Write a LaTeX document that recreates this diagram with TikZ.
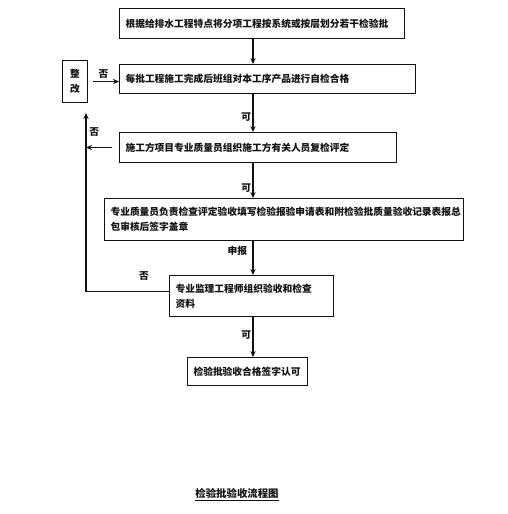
\documentclass[tikz,border=0pt]{standalone}
\usepackage{fontspec}
\newfontfamily\cjk{Noto Sans CJK SC}
\usetikzlibrary{arrows.meta}
\definecolor{ink}{HTML}{111111}

\begin{document}
\begin{tikzpicture}[x=0.75pt, y=-0.75pt,
  stepbox/.style={draw=ink, text=ink, line width=0.8pt, anchor=north west,
    inner xsep=4.5pt, inner ysep=2pt, align=left, font=\cjk\bfseries\fontsize{7.3}{11.5}\selectfont},
  fixbox/.style={stepbox, align=center, inner xsep=2pt},
  flow/.style={draw=ink, line width=0.8pt, -{Stealth[length=4.5pt, width=4pt]}},
  tag/.style={text=ink, font=\cjk\bfseries\fontsize{7.3}{8}\selectfont, inner sep=1pt},
]
\useasboundingbox (0,0) rectangle (507,514);

\node[stepbox, text width=204.75pt, minimum height=22.5pt] (split) at (119,8)
  {根据给排水工程特点将分项工程按系统或按层划分若干检验批};
\node[stepbox, text width=213pt, minimum height=21.75pt] (self) at (119,64)
  {每批工程施工完成后班组对本工序产品进行自检合格};
\node[fixbox, text width=14.75pt, minimum height=31.5pt] (fix) at (62,60)
  {整\\改};
\node[stepbox, text width=198.75pt, minimum height=22.5pt] (recheck) at (119,132)
  {施工方项目专业质量员组织施工方有关人员复检评定};
\node[stepbox, text width=260.25pt, minimum height=31.5pt, inner xsep=4.5pt] (apply) at (104,198)
  {专业质量员负责检查评定验收填写检验报验申请表和附检验批质量验收记录表报总\\包审核后签字盖章};
\node[stepbox, text width=114pt, minimum height=30.75pt] (super) at (169,275)
  {专业监理工程师组织验收和检查\\资料};
\node[stepbox, text width=81pt, minimum height=21pt] (pass) at (187,357)
  {检验批验收合格签字认可};

\coordinate (spine) at (253,0);
\coordinate (back) at (86,0);

\draw[flow] (split.south -| spine) -- (self.north -| spine);
\draw[flow] (self.south -| spine) -- node[tag, left, pos=0.6] {可} (recheck.north -| spine);
\draw[flow] (recheck.south -| spine) -- node[tag, left, pos=0.72] {可} (apply.north -| spine);
\draw[flow] (apply.south -| spine) -- node[tag, left=3pt, pos=0.3] {申报} (super.north -| spine);
\draw[flow] (super.south -| spine) -- node[tag, left, pos=0.45] {可} (pass.north -| spine);

% the three "no" returns
\draw[flow, shorten <=4pt] (fix.east) -- node[tag, above=1pt] {否} (fix.east -| self.west);
\draw[flow, shorten <=5pt] (recheck.west) -- node[tag, above=7pt, pos=0.75] {否} (recheck.west -| back);
\draw[flow, shorten >=7.5pt] ([yshift=3.5pt]super.west) -- node[tag, above=7pt, pos=0.3] {否}
  ([yshift=3.5pt]super.west -| back) -- (fix.south -| back);

\node[tag, font=\cjk\bfseries\fontsize{7.8}{9}\selectfont] (title) at (237,495) {\underline{检验批验收流程图}};
\end{tikzpicture}
\end{document}
